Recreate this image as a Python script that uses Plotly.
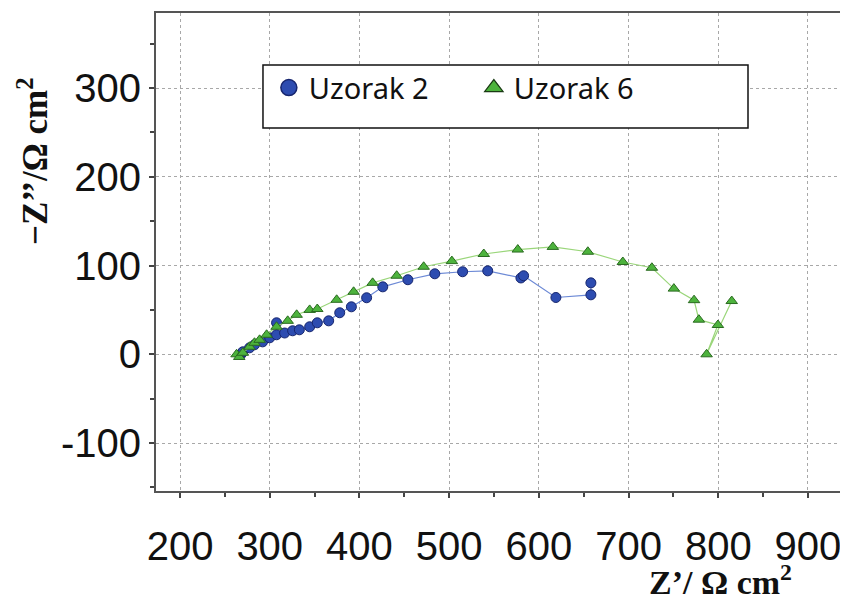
import plotly.graph_objects as go

# Uzorak 2 (blue circles)
u2_x = [268, 270, 277.5, 283, 292, 300, 307.6, 307.6, 316.6, 325.5, 333, 344.5, 353, 365.7, 378, 391, 408, 426,
        454, 484, 515, 543, 580, 583, 619, 658, 658]
u2_y = [0, 2.8, 7.3, 10.7, 14, 18.6, 22, 35.5, 24, 26.5, 27.6, 31, 35.5, 37.7, 46.8, 53.5, 63.7, 76,
        84, 90.7, 93, 94, 86, 88.5, 64, 67, 80.5]

# Uzorak 6 (green triangles)
u6_x = [263, 266, 270, 277.5, 283, 288.7, 296.5, 307.6, 320, 330, 344.5, 353, 374.6, 393.5, 414.7, 441.5,
        471.6, 503, 538.6, 576.5, 615.6, 654.6, 693.6, 726, 750.5, 773, 778.4, 799.6, 787, 815]
u6_y = [0, -3, 1.7, 8.5, 13, 16.3, 22, 31, 37.7, 44.5, 50, 51, 61.4, 70.4, 80.5, 88.5,
        98.6, 105, 113, 118, 121, 115.5, 104, 97.5, 74, 61, 39, 33, 0, 60]

x_ticks = [200, 300, 400, 500, 600, 700, 800, 900]
y_ticks = [-100, 0, 100, 200, 300]
y_ticktext = ["-100", "0", "100", "200", "300"]

blue_fill = "#2d4cb0"
blue_edge = "#17266e"
green_fill = "#4db33d"
green_edge = "#2a6a20"

fig = go.Figure()
fig.add_trace(go.Scatter(
    x=u2_x, y=u2_y, mode="lines+markers", name="Uzorak 2", showlegend=False,
    line=dict(color="#6d8ad6", width=1.2),
    marker=dict(symbol="circle", size=10, color=blue_fill, line=dict(color=blue_edge, width=1)),
))
fig.add_trace(go.Scatter(
    x=u6_x, y=u6_y, mode="lines+markers", name="Uzorak 6", showlegend=False,
    line=dict(color="#9ad67a", width=1.2),
    marker=dict(symbol="triangle-up", size=10, color=green_fill, line=dict(color=green_edge, width=1)),
))
# legend entries (markers only, as in the reference legend)
fig.add_trace(go.Scatter(
    x=[None], y=[None], mode="markers", name="Uzorak 2",
    marker=dict(symbol="circle", size=18, color=blue_fill, line=dict(color=blue_edge, width=1.5)),
))
fig.add_trace(go.Scatter(
    x=[None], y=[None], mode="markers", name="Uzorak 6",
    marker=dict(symbol="triangle-up", size=16, color=green_fill, line=dict(color="#1a3a14", width=1.2)),
))

axis_common = dict(
    showline=True, linecolor="#555555", linewidth=2, mirror=True,
    showgrid=True, gridcolor="#a8a8a8", griddash="dot", gridwidth=1.2,
    zeroline=False, automargin=False,
    ticks="outside", ticklen=5, tickcolor="#444444", tickwidth=1.5,
    minor=dict(dtick=50, ticks="outside", ticklen=4, tickcolor="#444444", showgrid=False),
    tickfont=dict(family="Liberation Sans, Arial", size=40, color="#111111"),
)

fig.update_xaxes(range=[173.2, 935.7], tickvals=x_ticks, ticklabelstandoff=14, **axis_common)
fig.update_yaxes(range=[-154, 384.5], tickvals=y_ticks, ticktext=y_ticktext, **axis_common)

fig.add_shape(type="rect", xref="paper", yref="paper", x0=0.1564, x1=0.8655, y0=0.7594, y1=0.891,
              line=dict(color="#111111", width=1.5), fillcolor="white", layer="above")

fig.update_layout(
    width=840, height=590,
    margin=dict(l=148, r=8, t=5, b=107),
    paper_bgcolor="white", plot_bgcolor="white",
    showlegend=True,
    legend=dict(orientation="h", x=0.165, y=0.897, xanchor="left", yanchor="top",
                bgcolor="rgba(0,0,0,0)", borderwidth=0, entrywidth=160, itemwidth=30,
                font=dict(family="Noto Sans", size=29, color="#111111")),
    annotations=[
        dict(text="<b>Z’/ Ω cm<sup>2</sup></b>", xref="paper", yref="paper", x=0.825, y=-0.186,
             xanchor="center", yanchor="middle", showarrow=False,
             font=dict(family="Liberation Serif", size=34, color="#111111")),
        dict(text="<b>−Z’’/Ω cm<sup>2</sup></b>", xref="paper", yref="paper", x=-0.18, y=0.69,
             xanchor="center", yanchor="middle", showarrow=False, textangle=-90,
             font=dict(family="Liberation Serif", size=35, color="#111111")),
    ],
)

fig.write_html("out.html")
